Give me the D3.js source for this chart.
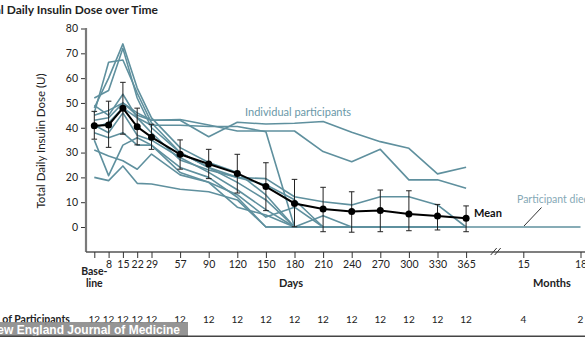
<!DOCTYPE html>
<html>
<head>
<meta charset="utf-8">
<script src="https://cdn.jsdelivr.net/npm/d3@7"></script>
<style>
  html, body { margin: 0; padding: 0; background: #fff; }
  svg { display: block; font-family: Lato, "Open Sans", sans-serif; }
</style>
</head>
<body>
<svg id="chart" width="585" height="337"></svg>
<script>
// ---------- data ----------
const dayLabels = ["Base-line", "8", "15", "22", "29", "57", "90", "120", "150", "180", "210", "240", "270", "300", "330", "365"];
const monthLabels = ["15", "18"];
const participantsDays = [12, 12, 12, 12, 12, 12, 12, 12, 12, 12, 12, 12, 12, 12, 12, 12];
const participantsMonths = [4, 2];
const yTicks = [0, 10, 20, 30, 40, 50, 60, 70, 80];

const meanDose = [40.8, 41.1, 47.9, 40.4, 36.2, 29.3, 25.4, 21.6, 16.3, 9.5, 7.3, 6.2, 6.6, 5.2, 4.4, 3.5];
const errLow  = [35.4, 32.1, 37.4, 33.1, 31.3, 23.3, 19.5, 13.7, 6.6, 0.1, -1.9, -2.1, -1.9, -1.5, -1.2, -1.9];
const errHigh = [46.6, 50.7, 58.3, 47.9, 41.4, 35.1, 31.3, 29.3, 25.9, 19.2, 16.0, 14.2, 14.9, 14.6, 9.1, 8.5];

// individual participants, one value per day label
const p01 = [45, 47, 50, 46, 43, 43, 36.4, 42.2, 41.5, 41.8, 42.5, 38.2, 34.4, 31.7, 21.4, 24.1];
const p02 = [43, 44, 50, 45, 43, 43.3, 41.1, 38.7, 38.7, 38.7, 30.4, 26.3, 31.3, 19, 19, 15.6];
const p03 = [40, 42, 48, 44, 41, 41, 40.5, 40.5, 38.4, 0, 0, 0, 0, 0, 0, 0];
const p04 = [48, 60, 73.8, 56, 44, 32, 26, 22, 12.9, 0, 0, 0, 0, 0, 0, 0];
const p05 = [46, 66.4, 67.3, 54, 42, 30, 24, 18, 10.9, 0, 0, 0, 0, 0, 0, 0];
const p06 = [52, 55, 72, 52, 40, 30, 24, 20, 19.5, 12.2, 10.2, 8.9, 12.2, 12.2, 8.9, 0];
const p07 = [49, 45, 53.5, 44, 38, 27, 23, 20, 17, 11, 0, 0, 0, 0, 0, 0];
const p08 = [41, 38, 46, 37, 35, 28, 22, 15, 7, 0, 4.5, 0, 0, 0, 0, 0];
const p09 = [38, 36, 38, 33, 33, 22, 18, 8, 4.8, 0, 0, 0, 0, 0, 0, 0];
const p10 = [35, 20.7, 33, 36, 33, 24, 20, 12, 0, 0, 0, 0, 0, 0, 0, 0];
const p11 = [31, 28.6, 26.7, 23.3, 29.4, 21, 18, 13, 4, 8, 0, 0, 0, 0, 0, 0];
const p12 = [20, 18.7, 24.6, 17.6, 17.3, 15.2, 14.2, 10.9, 0, 0, 0, 0, 0, 0, 0, 0];
const participants = [p01, p02, p03, p04, p05, p06, p07, p08, p09, p10, p11, p12];
// follow-up beyond day 365 (day 365, month 15, month 18)
const followUpDose = [0, 0, 0];

// ---------- layout ----------
const svg = d3.select("#chart");
const teal = "#5f909e";
const axisGrey = "#7a7a7a";

// slot position: first five visits are half-spaced, months after a break
const daySlot = i => (i < 5 ? i * 0.5 : i - 2);
const monthSlot = j => 15 + j * 2;

const x = d3.scaleLinear().domain([0, 17]).range([94.3, 580.5]);
const y = d3.scaleLinear().domain([0, 80]).range([227, 28.5]);
const axisY = 252;
const axisX = 86;

// title
svg.append("text").attr("x", 158).attr("y", 14).attr("text-anchor", "end")
  .attr("font-weight", "bold").attr("font-size", 12).attr("fill", "#222")
  .text("Total Daily Insulin Dose over Time");

// y axis
const yAxis = d3.axisLeft(y).tickValues(yTicks).tickSize(5).tickPadding(3);
const gy = svg.append("g").attr("transform", `translate(${axisX},0)`).call(yAxis);
gy.select(".domain").remove();
gy.selectAll(".tick line").attr("stroke", "#333");
gy.selectAll(".tick text").attr("font-size", 10.5).attr("fill", "#222").attr("font-family", "Lato, sans-serif");
svg.append("line").attr("x1", axisX).attr("x2", axisX).attr("y1", y(80) - 0.5).attr("y2", axisY)
  .attr("stroke", axisGrey).attr("stroke-width", 2.2);

svg.append("text")
  .attr("transform", `translate(45,141) rotate(-90)`)
  .attr("text-anchor", "middle").attr("font-size", 11.5).attr("fill", "#222")
  .text("Total Daily Insulin Dose (U)");

// x axis
svg.append("line").attr("x1", axisX).attr("x2", 585).attr("y1", axisY).attr("y2", axisY)
  .attr("stroke", "#555").attr("stroke-width", 1.5);

const dayTickSlots = dayLabels.map((d, i) => daySlot(i));
const monthTickSlots = monthLabels.map((d, j) => monthSlot(j));
const xAxisDays = d3.axisBottom(x).tickValues(dayTickSlots).tickSize(6).tickPadding(3)
  .tickFormat((d, i) => (i === 0 ? "" : dayLabels[i]));
const gx = svg.append("g").attr("transform", `translate(0,${axisY})`).call(xAxisDays);
gx.select(".domain").remove();
gx.selectAll(".tick line").attr("stroke", "#333");
gx.selectAll(".tick text").attr("font-size", 10.5).attr("fill", "#222").attr("font-family", "Lato, sans-serif");

const xAxisMonths = d3.axisBottom(x).tickValues(monthTickSlots).tickSize(6).tickPadding(3)
  .tickFormat((d, j) => monthLabels[j]);
const gxm = svg.append("g").attr("transform", `translate(0,${axisY})`).call(xAxisMonths);
gxm.select(".domain").remove();
gxm.selectAll(".tick line").attr("stroke", "#333");
gxm.selectAll(".tick text").attr("font-size", 10.5).attr("fill", "#222").attr("font-family", "Lato, sans-serif");

// baseline two-line label
const baseParts = dayLabels[0].split("-");
svg.append("text").attr("x", x(0)).attr("y", 274.5).attr("text-anchor", "middle")
  .attr("font-weight", "bold").attr("font-size", 10.5).attr("fill", "#222").text(baseParts[0] + "-");
svg.append("text").attr("x", x(0)).attr("y", 287).attr("text-anchor", "middle")
  .attr("font-weight", "bold").attr("font-size", 10.5).attr("fill", "#222").text(baseParts[1]);

svg.append("text").attr("x", 291).attr("y", 287).attr("text-anchor", "middle")
  .attr("font-weight", "bold").attr("font-size", 11).attr("fill", "#222").text("Days");
svg.append("text").attr("x", 552).attr("y", 287).attr("text-anchor", "middle")
  .attr("font-weight", "bold").attr("font-size", 11).attr("fill", "#222").text("Months");

// axis break marks
const bx = (x(13) + x(15)) / 2 + 1;
[-2, 2].forEach(o => {
  svg.append("line").attr("x1", bx + o - 3).attr("x2", bx + o + 3)
    .attr("y1", axisY + 3).attr("y2", axisY - 4).attr("stroke", "#333").attr("stroke-width", 1);
});

// individual participant lines
const line = d3.line().x(d => x(d.s)).y(d => y(d.v));
participants.forEach(p => {
  svg.append("path")
    .attr("d", line(p.map((v, i) => ({ s: daySlot(i), v }))))
    .attr("fill", "none").attr("stroke", teal).attr("stroke-width", 1.6)
    .attr("stroke-linejoin", "round");
});
const followSlots = [daySlot(dayLabels.length - 1), monthSlot(0), monthSlot(1)];
svg.append("path")
  .attr("d", line(followUpDose.map((v, k) => ({ s: followSlots[k], v }))))
  .attr("fill", "none").attr("stroke", teal).attr("stroke-width", 1.6);

// error bars
meanDose.forEach((m, i) => {
  const cx = x(daySlot(i));
  svg.append("line").attr("x1", cx).attr("x2", cx).attr("y1", y(errLow[i])).attr("y2", y(errHigh[i]))
    .attr("stroke", "#222").attr("stroke-width", 1);
  [errLow[i], errHigh[i]].forEach(v => {
    svg.append("line").attr("x1", cx - 2.8).attr("x2", cx + 2.8).attr("y1", y(v)).attr("y2", y(v))
      .attr("stroke", "#222").attr("stroke-width", 1);
  });
});

// mean line
svg.append("path")
  .attr("d", line(meanDose.map((v, i) => ({ s: daySlot(i), v }))))
  .attr("fill", "none").attr("stroke", "#000").attr("stroke-width", 2);
svg.selectAll("circle.mean").data(meanDose).enter().append("circle")
  .attr("cx", (d, i) => x(daySlot(i))).attr("cy", d => y(d)).attr("r", 3.5).attr("fill", "#000");

// annotations
svg.append("text").attr("x", 245).attr("y", 115.5).attr("font-size", 11).attr("fill", "#6a98a8")
  .text("Individual participants");
svg.append("text").attr("x", 474).attr("y", 217).attr("font-size", 11).attr("font-weight", "bold").attr("fill", "#111")
  .text("Mean");
svg.append("text").attr("x", 517).attr("y", 203).attr("font-size", 10.5).attr("fill", "#86a9b6")
  .text("Participant died");
svg.append("line").attr("x1", 541.5).attr("y1", 207.5).attr("x2", 524).attr("y2", 226)
  .attr("stroke", "#333").attr("stroke-width", 1);

// participants row
svg.append("text").attr("x", 70).attr("y", 323).attr("text-anchor", "end")
  .attr("font-weight", "bold").attr("font-size", 10.5).attr("fill", "#222").text("No. of Participants");
participantsDays.forEach((n, i) => {
  svg.append("text").attr("x", x(daySlot(i))).attr("y", 323).attr("text-anchor", "middle")
    .attr("font-size", 10).attr("fill", "#222").text(n);
});
participantsMonths.forEach((n, j) => {
  svg.append("text").attr("x", x(monthSlot(j))).attr("y", 323).attr("text-anchor", "middle")
    .attr("font-size", 10).attr("fill", "#222").text(n);
});

// watermark
svg.append("rect").attr("x", 0).attr("y", 322).attr("width", 188).attr("height", 15)
  .attr("fill", "#8c8c8c").attr("opacity", 0.92);
svg.append("text").attr("x", 180).attr("y", 334).attr("text-anchor", "end")
  .attr("font-family", "'Liberation Sans', Arial, sans-serif")
  .attr("font-weight", "bold").attr("font-size", 12).attr("fill", "#fff")
  .text("New England Journal of Medicine");
svg.append("line").attr("x1", 0).attr("x2", 585).attr("y1", 336.2).attr("y2", 336.2)
  .attr("stroke", "#444").attr("stroke-width", 1.5);
</script>
</body>
</html>
